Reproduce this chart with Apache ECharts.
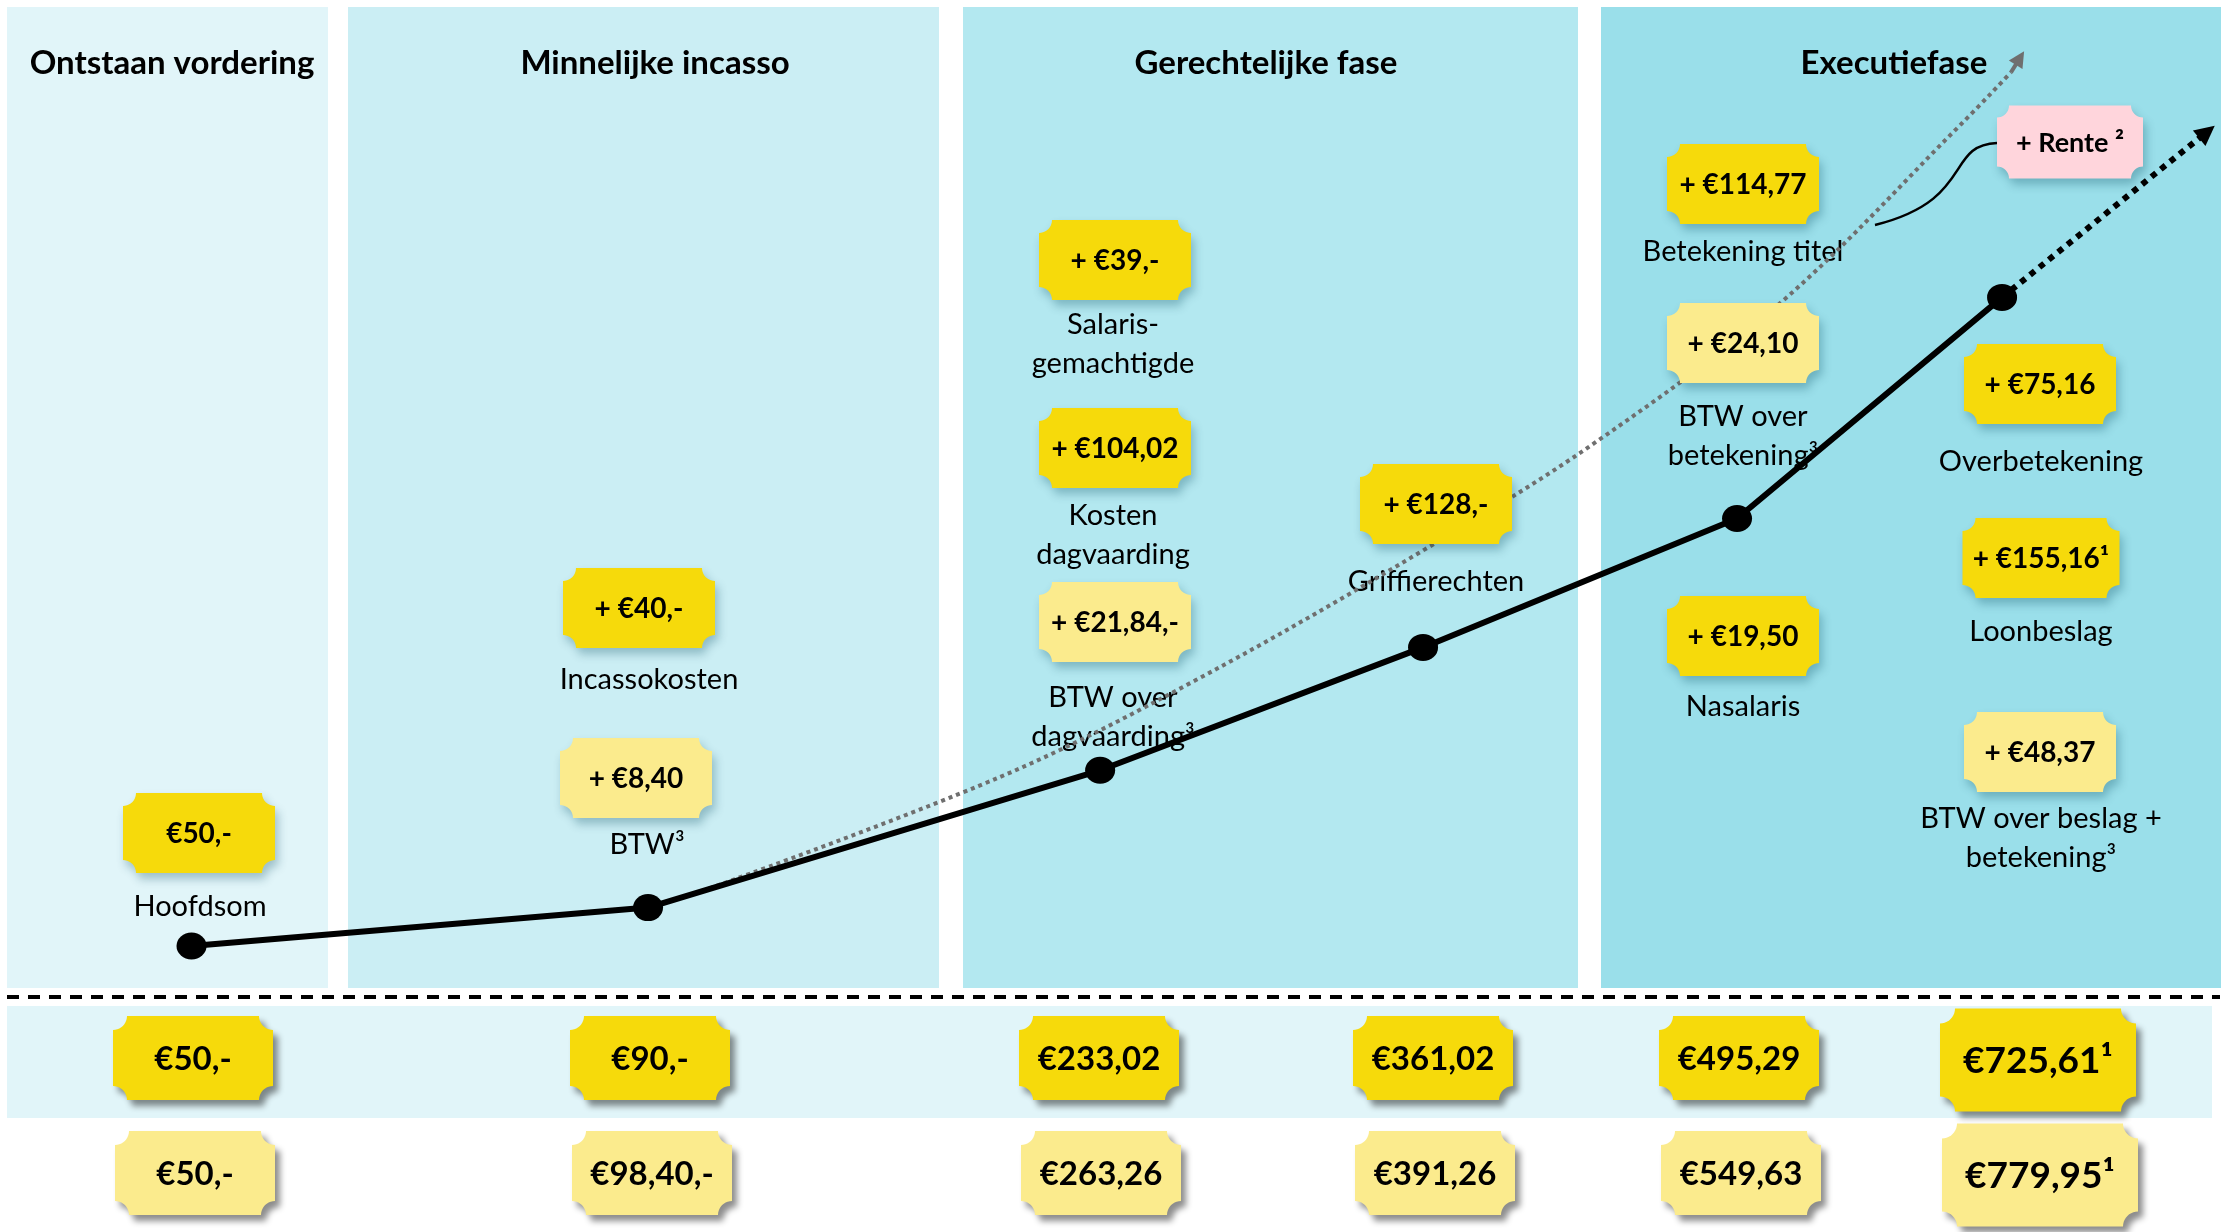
<!DOCTYPE html>
<html>
<head>
<meta charset="utf-8">
<script src="https://cdn.jsdelivr.net/npm/echarts@6/dist/echarts.min.js"></script>
<style>
html, body { margin: 0; padding: 0; background: #fff; }
#chart { width: 2227px; height: 1232px; }
</style>
</head>
<body>
<div id="chart"></div>
<script>
// ---- data ----
const stageNames = ['Ontstaan vordering', 'Minnelijke incasso', 'Gerechtelijke fase', 'Executiefase'];

// cumulatief bedrag na elke stap (zwarte lijn), x = positie op de tijdlijn (0-1000)
const stepX = [86, 291, 494, 639, 780, 899];
const cumulative = [50, 90, 233.02, 361.02, 495.29, 725.61];
const trendEnd = [991, 898];

// grijze stippellijn (rente)
const renteX = [315, 449, 537, 639, 716, 800, 881, 903];
const renteY = [107, 226, 327, 462, 574, 721, 907, 960];
const renteTip = [907, 975];
const renteLabel = '+ Rente \u00b2';

const costAmounts = ['€50,-', '+ €40,-', '+ €8,40', '+ €39,-', '+ €104,02', '+ €21,84,-', '+ €128,-',
  '+ €114,77', '+ €24,10', '+ €75,16', '+ €155,16¹', '+ €19,50', '+ €48,37'];
const costNames = ['Hoofdsom', 'Incassokosten', 'BTW³', 'Salaris-\ngemachtigde', 'Kosten\ndagvaarding',
  'BTW over\ndagvaarding³', 'Griffierechten', 'Betekening titel', 'BTW over\nbetekening³',
  'Overbetekening', 'Loonbeslag', 'Nasalaris', 'BTW over beslag +\nbetekening³'];
const costIsBtw = [false, false, true, false, false, true, false, false, true, false, false, false, true];

const totals = ['€50,-', '€90,-', '€233,02', '€361,02', '€495,29', '€725,61¹'];
const totalsInclBtw = ['€50,-', '€98,40,-', '€263,26', '€391,26', '€549,63', '€779,95¹'];

// ---- layout (pixels) ----
const panelX = [7, 348, 963, 1601];
const panelW = [321, 591, 615, 620];
const panelColors = ['#e1f5f9', '#cbeef4', '#b3e8f0', '#9adfea'];
const titleX = [172, 655, 1266, 1894];
const tagPos = [[199, 833], [639, 608], [636, 778], [1115, 260], [1115, 448], [1115, 622], [1436, 504],
  [1743, 184], [1743, 343], [2040, 384], [2041, 558], [1743, 636], [2040, 752]];
const namePos = [[200, 907], [649, 680], [647, 845], [1113, 344], [1113, 535], [1113, 717], [1436, 582],
  [1743, 252], [1743, 436], [2041, 462], [2041, 632], [1743, 707], [2041, 838]];
const totalsX = [193, 650, 1099, 1433, 1739, 2038];

const DARK = '#f6da0b';
const LIGHT = '#fbeb8d';
const PINK = '#ffd5dc';
const FONT = 'Lato, "Open Sans", sans-serif';

function ticket(cx, cy, w, h, r) {
  const x0 = cx - w / 2, x1 = cx + w / 2, y0 = cy - h / 2, y1 = cy + h / 2;
  const pts = [];
  const arc = (ox, oy, a0, a1) => {
    for (let i = 0; i <= 10; i++) {
      const a = (a0 + (a1 - a0) * i / 10) * Math.PI / 180;
      pts.push([ox + r * Math.cos(a), oy + r * Math.sin(a)]);
    }
  };
  arc(x1, y0, 180, 90);
  arc(x1, y1, 270, 180);
  arc(x0, y1, 360, 270);
  arc(x0, y0, 90, 0);
  return pts;
}

function text(x, y, str, font, z, extra) {
  return {
    type: 'text', x: x, y: y, z: z, silent: true,
    style: Object.assign({
      text: str, font: font, fill: '#000',
      align: 'center', verticalAlign: 'middle',
      textAlign: 'center', textVerticalAlign: 'middle'
    }, extra || {})
  };
}

function tag(cx, cy, w, h, r, fill, str, font, shadow) {
  return [
    {
      type: 'polygon', z: 5, silent: true,
      shape: { points: ticket(cx, cy, w, h, r) },
      style: Object.assign({ fill: fill }, shadow)
    },
    text(cx, cy + 1, str, font, 6)
  ];
}

const softShadow = { shadowBlur: 10, shadowColor: 'rgba(0,70,90,0.3)', shadowOffsetX: 3, shadowOffsetY: 6 };
const hardShadow = { shadowBlur: 6, shadowColor: 'rgba(0,0,0,0.45)', shadowOffsetX: 5, shadowOffsetY: 6 };

const graphics = [];
panelX.forEach((x, i) => {
  graphics.push({ type: 'rect', z: 0, silent: true, shape: { x: x, y: 7, width: panelW[i], height: 981 }, style: { fill: panelColors[i] } });
  graphics.push(text(titleX[i], 63, stageNames[i], 'bold 33px ' + FONT, 1));
});
graphics.push({ type: 'rect', z: 0, silent: true, shape: { x: 7, y: 1006, width: 2205, height: 112 }, style: { fill: '#e1f5f9' } });
graphics.push({ type: 'line', z: 1, silent: true, shape: { x1: 7, y1: 997, x2: 2220, y2: 997 }, style: { stroke: '#000', lineWidth: 4, lineDash: [12, 9] } });

costAmounts.forEach((a, i) => {
  const p = tagPos[i];
  graphics.push(...tag(p[0], p[1], i === 10 ? 157 : 152, 80, 13, costIsBtw[i] ? LIGHT : DARK, a, 'bold 28px ' + FONT, softShadow));
  graphics.push(text(namePos[i][0], namePos[i][1], costNames[i], '29px ' + FONT, 1, { lineHeight: 39 }));
});
graphics.push(...tag(2070, 142, 146, 73, 12, PINK, renteLabel, 'bold 27px ' + FONT, softShadow));
graphics.push({
  type: 'bezierCurve', z: 3, silent: true,
  shape: { x1: 1875, y1: 225, cpx1: 1975, cpy1: 200, cpx2: 1945, cpy2: 145, x2: 1997, y2: 143 },
  style: { stroke: '#000', lineWidth: 2.5, fill: null }
});

totals.forEach((t, i) => {
  const big = i === totals.length - 1;
  graphics.push(...tag(totalsX[i], big ? 1060 : 1058, big ? 196 : 160, big ? 103 : 84, big ? 15 : 14, DARK, t, (big ? 'bold 37px ' : 'bold 33px ') + FONT, hardShadow));
  graphics.push(...tag(totalsX[i] + 2, big ? 1175 : 1173, big ? 196 : 160, big ? 103 : 84, big ? 15 : 14, LIGHT, totalsInclBtw[i], (big ? 'bold 37px ' : 'bold 33px ') + FONT, hardShadow));
});

const chart = echarts.init(document.getElementById('chart'));
chart.setOption({
  animation: false,
  backgroundColor: '#fff',
  grid: { left: 0, right: 0, top: 34, bottom: 238 },
  xAxis: { type: 'value', min: 0, max: 1000, show: false },
  yAxis: { type: 'value', min: 0, max: 1000, show: false },
  graphic: { elements: graphics },
  series: [
    {
      name: 'Rente',
      type: 'line',
      z: 2,
      smooth: 0.35,
      symbol: 'none',
      silent: true,
      data: renteX.map((x, i) => [x, renteY[i]]),
      lineStyle: { color: '#6f6f6f', width: 4, type: [4, 4] },
      markLine: {
        silent: true,
        symbol: ['none', 'triangle'],
        symbolSize: 16,
        label: { show: false },
        lineStyle: { color: '#6f6f6f', width: 4, type: 'solid' },
        data: [[{ coord: [renteX[renteX.length - 1], renteY[renteY.length - 1]] }, { coord: renteTip }]]
      }
    },
    {
      name: 'Totaal',
      type: 'line',
      z: 3,
      silent: true,
      symbol: 'circle',
      symbolSize: [30, 27],
      data: stepX.map((x, i) => [x, cumulative[i]]),
      itemStyle: { color: '#000' },
      lineStyle: { color: '#000', width: 6 },
      markLine: {
        silent: true,
        symbol: ['none', 'triangle'],
        symbolSize: 20,
        label: { show: false },
        lineStyle: { color: '#000', width: 6, type: [6, 6] },
        data: [[{ coord: [stepX[stepX.length - 1], cumulative[cumulative.length - 1]] }, { coord: trendEnd }]]
      }
    }
  ]
});
</script>
</body>
</html>
